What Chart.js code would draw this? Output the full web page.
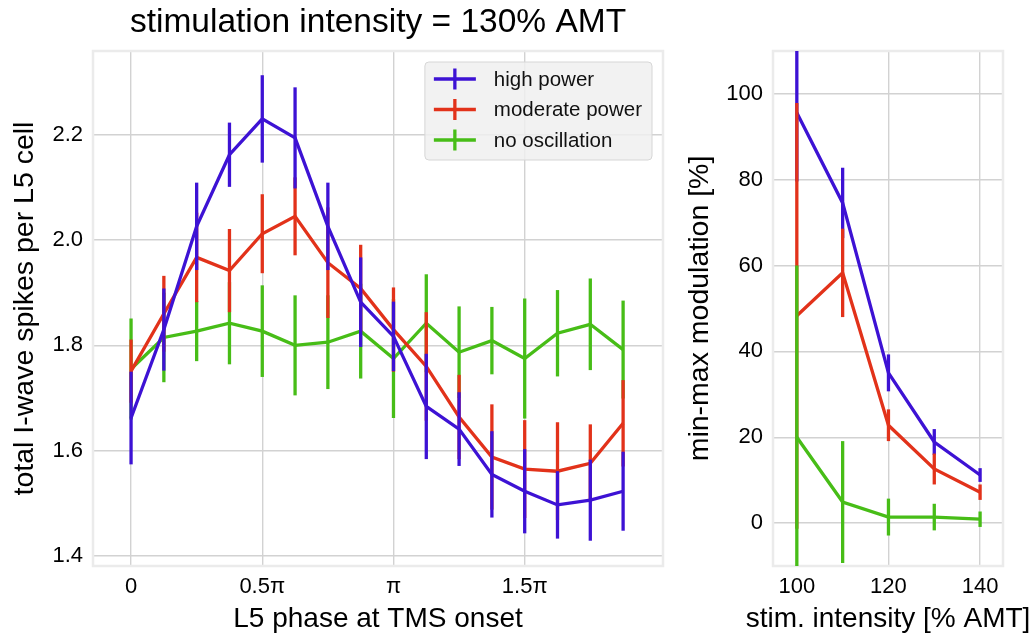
<!DOCTYPE html>
<html><head><meta charset="utf-8">
<script src="https://cdn.jsdelivr.net/npm/chart.js@4.4.1/dist/chart.umd.min.js"></script>
<style>
html,body{margin:0;padding:0;background:#fff;width:1035px;height:637px;overflow:hidden}
#cl{position:absolute;left:0;top:0}
#cr{position:absolute;left:675px;top:0}
</style></head><body>
<canvas id="cl" width="756" height="637"></canvas>
<canvas id="cr" width="360" height="637"></canvas>
<script>
// ---------- data: left panel ----------
const phases = [0, 0.125, 0.25, 0.375, 0.5, 0.625, 0.75, 0.875, 1, 1.125, 1.25, 1.375, 1.5, 1.625, 1.75, 1.875]; // in units of pi
const highMean = [1.662, 1.830, 2.026, 2.162, 2.230, 2.194, 2.026, 1.882, 1.817, 1.684, 1.641, 1.555, 1.523, 1.497, 1.506, 1.523];
const highErr  = [0.088, 0.078, 0.083, 0.061, 0.083, 0.096, 0.083, 0.085, 0.066, 0.100, 0.070, 0.082, 0.080, 0.064, 0.077, 0.075];
const modMean  = [1.751, 1.860, 1.967, 1.942, 2.012, 2.045, 1.957, 1.908, 1.830, 1.760, 1.664, 1.588, 1.565, 1.561, 1.576, 1.652];
const modErr   = [0.060, 0.072, 0.085, 0.079, 0.075, 0.074, 0.105, 0.083, 0.080, 0.103, 0.080, 0.100, 0.093, 0.093, 0.074, 0.082];
const noMean   = [1.755, 1.815, 1.827, 1.842, 1.827, 1.800, 1.806, 1.827, 1.775, 1.842, 1.787, 1.809, 1.775, 1.823, 1.840, 1.792];
const noErr    = [0.096, 0.085, 0.057, 0.078, 0.087, 0.095, 0.089, 0.090, 0.113, 0.093, 0.087, 0.064, 0.114, 0.082, 0.087, 0.093];
const phaseTickValues = [0, 0.5, 1, 1.5];
const phaseTickLabels = ['0', '0.5\u03C0', '\u03C0', '1.5\u03C0'];
const spikeTickValues = [1.4, 1.6, 1.8, 2.0, 2.2];

// ---------- data: right panel ----------
const intensities = [100, 110, 120, 130, 140];
const highMod    = [95.6, 74.6, 35.0, 18.9, 11.2];
const highModErr = [16.0, 8.2, 4.3, 3.0, 1.6];
const modMod     = [48.3, 58.3, 22.8, 12.6, 7.2];
const modModErr  = [49.6, 10.3, 3.7, 3.6, 1.8];
const noMod      = [20.0, 4.9, 1.4, 1.4, 0.9];
const noModErr   = [40.0, 14.2, 4.3, 3.1, 1.8];
const intensityTickValues = [100, 120, 140];
const modTickValues = [0, 20, 40, 60, 80, 100];

const seriesLabels = ['high power', 'moderate power', 'no oscillation'];
const colors = ['#3d12d4', '#e2321a', '#47bd17'];
const title = 'stimulation intensity = 130% AMT';
const rightXTitle = 'stim. intensity [% AMT]';

const FAMILY = "'Liberation Sans', Arial, Helvetica, sans-serif";
Chart.defaults.font.family = FAMILY;
Chart.defaults.color = '#000';
Chart.defaults.animation = false;

const pts = (xs, ys) => xs.map((x, i) => ({x: x, y: ys[i]}));

const errorBarPlugin = {
  id: 'errorBars',
  beforeDatasetDraw(chart, args) {
    const ds = chart.data.datasets[args.index];
    if (!ds.errors) return;
    const {ctx, chartArea: a} = chart;
    const xs = chart.scales.x, ys = chart.scales.y;
    ctx.save();
    ctx.beginPath();
    ctx.rect(a.left, a.top, a.right - a.left, a.bottom - a.top);
    ctx.clip();
    ctx.strokeStyle = ds.borderColor;
    ctx.lineWidth = 3.3;
    ctx.lineCap = 'butt';
    ds.data.forEach((p, i) => {
      const e = ds.errors[i];
      const px = xs.getPixelForValue(p.x);
      ctx.beginPath();
      ctx.moveTo(px, ys.getPixelForValue(p.y - e));
      ctx.lineTo(px, ys.getPixelForValue(p.y + e));
      ctx.stroke();
    });
    ctx.restore();
  }
};

const framePlugin = {
  id: 'frame',
  beforeDatasetsDraw(chart) {
    const {ctx, chartArea: a} = chart;
    ctx.save();
    ctx.strokeStyle = '#ebebeb';
    ctx.lineWidth = 2.5;
    ctx.strokeRect(a.left, a.top, a.right - a.left, a.bottom - a.top);
    ctx.restore();
  }
};

const legendPlugin = {
  id: 'errLegend',
  afterDraw(chart) {
    const {ctx, chartArea: a} = chart;
    ctx.save();
    ctx.font = '20.5px ' + FAMILY;
    const items = chart.data.datasets.map(d => ({label: d.label, color: d.borderColor}));
    const tw = Math.max(...items.map(it => ctx.measureText(it.label).width));
    const padL = 9, handle = 42, gap = 18, padR = 10;
    const w = padL + handle + gap + tw + padR, h = 98;
    const x0 = a.right - 11 - w, y0 = a.top + 11;
    ctx.beginPath();
    if (ctx.roundRect) ctx.roundRect(x0, y0, w, h, 4); else ctx.rect(x0, y0, w, h);
    ctx.fillStyle = 'rgba(240,240,240,0.85)';
    ctx.fill();
    ctx.strokeStyle = '#d6d6d6';
    ctx.lineWidth = 1;
    ctx.stroke();
    items.forEach((it, i) => {
      const cy = y0 + 17 + i * 30.5;
      ctx.strokeStyle = it.color;
      ctx.lineWidth = 3.3;
      ctx.beginPath();
      ctx.moveTo(x0 + padL, cy); ctx.lineTo(x0 + padL + handle, cy);
      ctx.moveTo(x0 + padL + handle / 2, cy - 10.5); ctx.lineTo(x0 + padL + handle / 2, cy + 10.5);
      ctx.stroke();
      ctx.fillStyle = '#111';
      ctx.textAlign = 'left';
      ctx.textBaseline = 'middle';
      ctx.fillText(it.label, x0 + padL + handle + gap, cy + 1);
    });
    ctx.restore();
  }
};

// x-axis title for the narrow right panel, drawn without Chart.js' width squeezing
const wideXTitlePlugin = {
  id: 'wideXTitle',
  afterDraw(chart, args, opts) {
    const {ctx, chartArea: a} = chart;
    ctx.save();
    ctx.font = opts.size + 'px ' + FAMILY;
    ctx.fillStyle = '#000';
    ctx.textAlign = 'center';
    ctx.textBaseline = 'middle';
    ctx.fillText(opts.text, (a.left + a.right) / 2, chart.height - opts.bottom);
    ctx.restore();
  }
};

const gridCfg = {color: '#d2d2d2', lineWidth: 1.4, drawTicks: false};

function lineDs(label, color, xs, ys, errs, order) {
  return {label, data: pts(xs, ys), errors: errs, borderColor: color, backgroundColor: color,
          borderWidth: 3.3, pointRadius: 0, tension: 0, fill: false, order: order};
}

// ---------- left chart ----------
new Chart(document.getElementById('cl'), {
  type: 'line',
  data: {datasets: [
    lineDs(seriesLabels[0], colors[0], phases, highMean, highErr, 0),
    lineDs(seriesLabels[1], colors[1], phases, modMean, modErr, 0),
    lineDs(seriesLabels[2], colors[2], phases, noMean, noErr, 0)
  ]},
  options: {
    responsive: false,
    layout: {padding: 0},
    plugins: {
      legend: {display: false},
      tooltip: {enabled: false},
      title: {display: true, text: title, font: {size: 33.5, weight: 'normal'}, color: '#000',
              padding: {top: 2.5, bottom: 8.3}}
    },
    scales: {
      x: {
        type: 'linear', min: -0.145, max: 2.027,
        grid: gridCfg, border: {display: false},
        afterBuildTicks: s => { s.ticks = phaseTickValues.map(v => ({value: v})); },
        afterFit: s => { s.height = 71; },
        ticks: {autoSkip: false, maxRotation: 0, padding: 8, font: {size: 22}, color: '#000',
                callback: (v, i) => phaseTickLabels[i]},
        title: {display: true, text: 'L5 phase at TMS onset', font: {size: 28}, color: '#000',
                padding: {top: 0, bottom: 1}}
      },
      y: {
        type: 'linear', min: 1.381, max: 2.359,
        grid: gridCfg, border: {display: false},
        afterBuildTicks: s => { s.ticks = spikeTickValues.map(v => ({value: v})); },
        afterFit: s => { s.width = 93; },
        ticks: {padding: 10, font: {size: 22}, color: '#000', callback: v => v.toFixed(1)},
        title: {display: true, text: 'total I-wave spikes per L5 cell', font: {size: 28.5}, color: '#000',
                padding: {top: 8, bottom: 0}}
      },
      spacer: {
        type: 'linear', position: 'right', min: 0, max: 1, display: true,
        grid: {display: false, drawTicks: false}, border: {display: false},
        ticks: {display: false},
        afterFit: s => { s.width = 93; }
      }
    }
  },
  plugins: [framePlugin, errorBarPlugin, legendPlugin]
});

// ---------- right chart ----------
new Chart(document.getElementById('cr'), {
  type: 'line',
  data: {datasets: [
    lineDs(seriesLabels[0], colors[0], intensities, highMod, highModErr, 3),
    lineDs(seriesLabels[1], colors[1], intensities, modMod, modModErr, 2),
    lineDs(seriesLabels[2], colors[2], intensities, noMod, noModErr, 1)
  ]},
  options: {
    responsive: false,
    layout: {padding: {left: 0, right: 32, top: 51, bottom: 0}},
    plugins: {legend: {display: false}, tooltip: {enabled: false}, title: {display: false},
              wideXTitle: {text: rightXTitle, size: 28, bottom: 18}},
    scales: {
      x: {
        type: 'linear', min: 94.8, max: 145,
        grid: gridCfg, border: {display: false},
        afterBuildTicks: s => { s.ticks = intensityTickValues.map(v => ({value: v})); },
        afterFit: s => { s.height = 71; },
        ticks: {autoSkip: false, maxRotation: 0, padding: 8, font: {size: 22}, color: '#000',
                callback: v => String(v)},
        title: {display: false}
      },
      y: {
        type: 'linear', min: -10, max: 110,
        grid: gridCfg, border: {display: false},
        afterBuildTicks: s => { s.ticks = modTickValues.map(v => ({value: v})); },
        afterFit: s => { s.width = 98; },
        ticks: {padding: 10, font: {size: 22}, color: '#000', callback: v => String(v)},
        title: {display: true, text: 'min-max modulation [%]', font: {size: 28.5}, color: '#000',
                padding: {top: 8, bottom: 0}}
      }
    }
  },
  plugins: [framePlugin, errorBarPlugin, wideXTitlePlugin]
});
</script>
</body></html>
